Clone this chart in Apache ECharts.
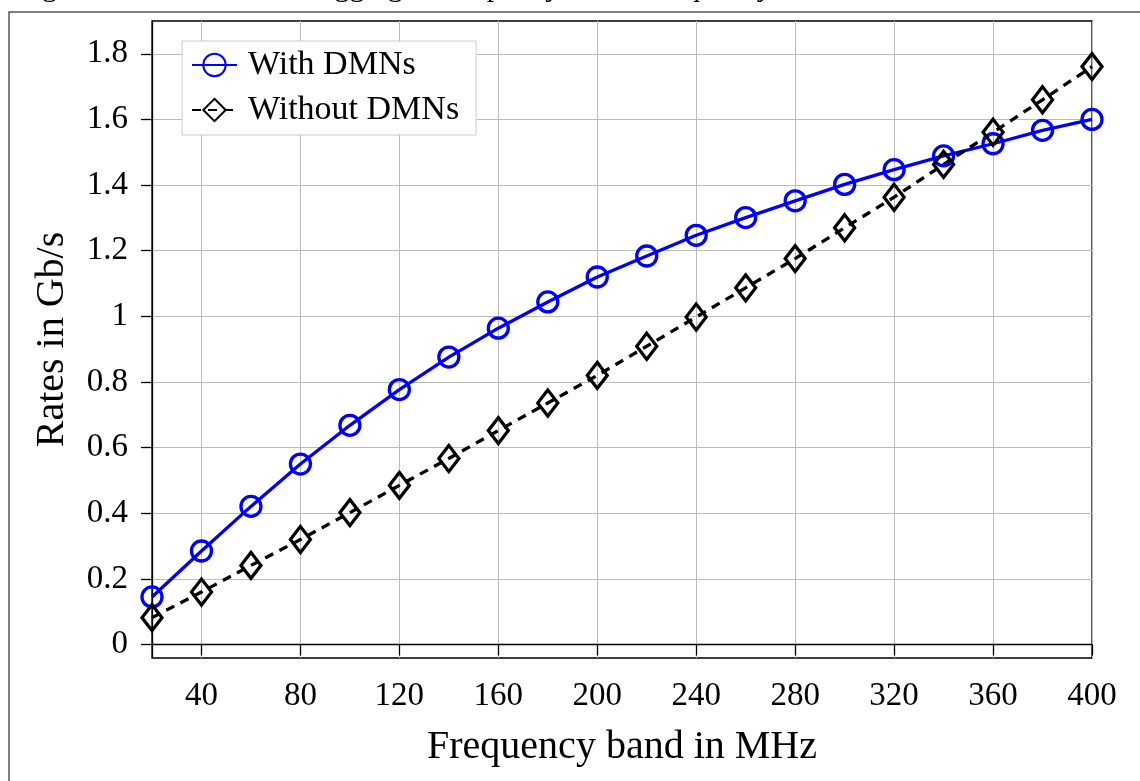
<!DOCTYPE html>
<html lang="en">
<head>
    <meta charset="UTF-8">
    <title>Rates vs frequency band</title>
    <script type="text/javascript" src="https://cdn.jsdelivr.net/npm/echarts@6.0.0/dist/echarts.min.js"></script>
    <style>
        html, body { margin: 0; padding: 0; background: #fff; }
    </style>
</head>
<body>
<div id="main" style="width: 1140px; height: 781px;"></div>
<script type="text/javascript">
    "use strict"
    // frequency band (MHz)
    var freq = [20, 40, 60, 80, 100, 120, 140, 160, 180, 200, 220, 240, 260, 280, 300, 320, 340, 360, 380, 400];
    // rates in Gb/s
    var withDMNs = [0.145, 0.285, 0.421, 0.550, 0.668, 0.777, 0.876, 0.964, 1.044, 1.120,
                    1.184, 1.247, 1.301, 1.352, 1.402, 1.447, 1.489, 1.526, 1.567, 1.600];
    var withoutDMNs = [0.082, 0.160, 0.241, 0.320, 0.402, 0.485, 0.567, 0.652, 0.736, 0.820,
                       0.909, 0.998, 1.087, 1.176, 1.270, 1.363, 1.463, 1.561, 1.660, 1.761];
    var xTicks = [40, 80, 120, 160, 200, 240, 280, 320, 360, 400];
    var yTicks = [0, 0.2, 0.4, 0.6, 0.8, 1, 1.2, 1.4, 1.6, 1.8];
    var seriesNames = ['With DMNs', 'Without DMNs'];
    var caption = 'Figure 4.13: Global total aggregated capacity versus frequency band';

    var font = "'Liberation Serif', 'DejaVu Serif', serif";

    function pairs(ys) {
        return ys.map(function (y, i) { return [freq[i], y]; });
    }

    var myChart = echarts.init(document.getElementById('main'));
    var option = {
        animation: false,
        backgroundColor: '#fff',
        graphic: [
            {
                type: 'rect',
                shape: { x: 9, y: 12, width: 1200, height: 900 },
                style: { fill: 'none', stroke: '#555', lineWidth: 1.5 },
                silent: true
            },
            {
                type: 'text',
                left: 17,
                top: -27,
                style: { text: caption, font: '30px ' + font, fill: '#000' },
                silent: true
            }
        ],
        grid: {
            left: 152,
            right: 48,
            top: 21,
            bottom: 123,
            show: true,
            borderColor: '#000',
            borderWidth: 1.3,
            backgroundColor: 'transparent'
        },
        legend: {
            data: seriesNames,
            orient: 'vertical',
            left: 182,
            top: 41,
            itemWidth: 45,
            itemHeight: 28,
            itemGap: 11,
            padding: [7, 17, 8, 9],
            backgroundColor: '#fff',
            borderColor: '#ccc',
            borderWidth: 1,
            borderRadius: 0,
            textStyle: {
                fontFamily: font,
                fontSize: 34,
                color: '#000',
                padding: [0, 0, 0, 6]
            }
        },
        xAxis: {
            type: 'value',
            min: 20,
            max: 400,
            name: 'Frequency band in MHz',
            nameLocation: 'middle',
            nameGap: 69,
            nameTextStyle: { fontFamily: font, fontSize: 40, color: '#000' },
            axisLine: { show: true, lineStyle: { color: '#000', width: 1.3 } },
            axisTick: { show: true, length: 11, customValues: xTicks, lineStyle: { color: '#000', width: 1.3 } },
            axisLabel: {
                customValues: xTicks,
                margin: 22,
                fontFamily: font,
                fontSize: 33,
                color: '#000'
            },
            splitLine: { show: true, lineStyle: { color: '#bbb', width: 1 } }
        },
        yAxis: {
            type: 'value',
            min: -0.041,
            max: 1.9,
            name: 'Rates in Gb/s',
            nameLocation: 'middle',
            nameGap: 80,
            nameTextStyle: { fontFamily: font, fontSize: 40, color: '#000' },
            axisLine: { show: true, lineStyle: { color: '#000', width: 1.3 } },
            axisTick: { show: true, length: 11, customValues: yTicks, lineStyle: { color: '#000', width: 1.3 } },
            axisLabel: {
                customValues: yTicks,
                margin: 24,
                fontFamily: font,
                fontSize: 33,
                color: '#000',
                formatter: function (v) { return String(v); }
            },
            splitLine: { show: true, lineStyle: { color: '#bbb', width: 1 } }
        },
        series: [
            {
                name: seriesNames[0],
                type: 'line',
                data: pairs(withDMNs),
                symbol: 'circle',
                symbolSize: 20,
                showAllSymbol: true,
                lineStyle: { color: '#0000ff', width: 3.3 },
                itemStyle: { color: 'rgba(0,0,0,0)', borderColor: '#0000ff', borderWidth: 3.3 }
            },
            {
                name: seriesNames[1],
                type: 'line',
                data: pairs(withoutDMNs),
                symbol: 'diamond',
                symbolSize: [20, 26],
                showAllSymbol: true,
                lineStyle: { color: '#000', width: 3.3, type: [9, 7] },
                itemStyle: { color: 'rgba(0,0,0,0)', borderColor: '#000', borderWidth: 3.3 }
            }
        ]
    };
    myChart.setOption(option);
</script>
</body>
</html>
